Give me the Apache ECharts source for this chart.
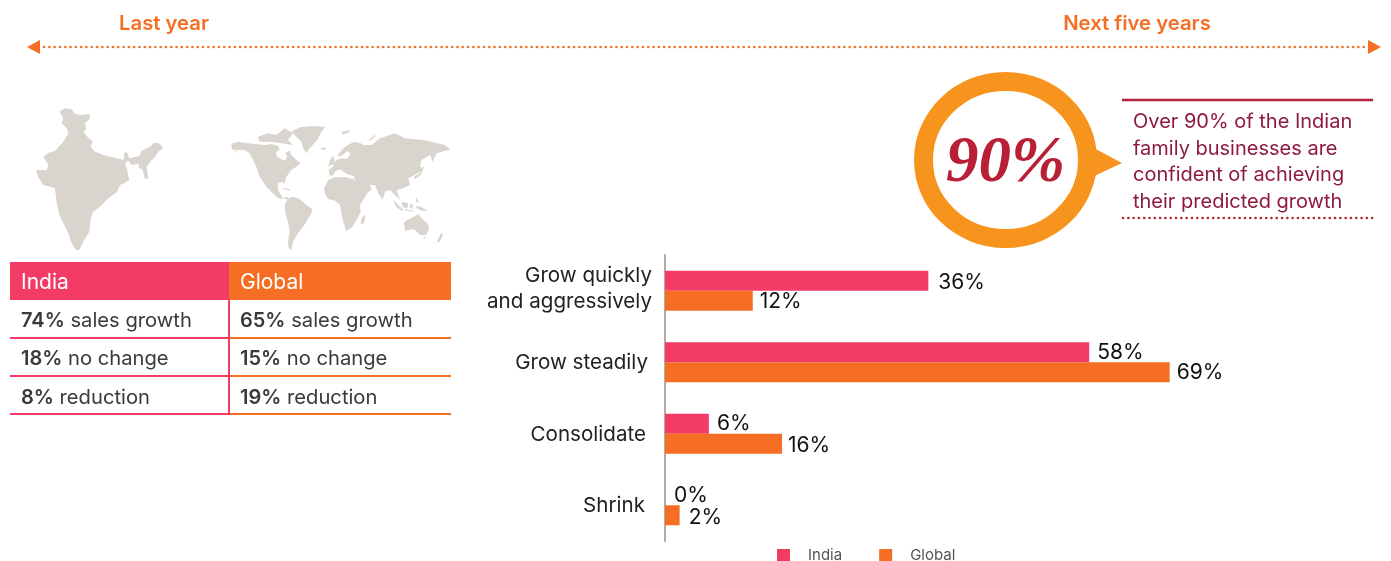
<!DOCTYPE html>
<html>
<head>
<meta charset="utf-8">
<title>Growth outlook</title>
<style>
  html, body { margin: 0; padding: 0; background: #fff; }
  #chart { width: 1391px; height: 561px; }
</style>
<script src="https://cdn.jsdelivr.net/npm/echarts@6/dist/echarts.min.js"></script>
</head>
<body>
<div id="chart"></div>
<script>
  // bar chart, next five years
  var categories = ['Grow quickly\nand aggressively', 'Grow steadily', 'Consolidate', 'Shrink']
  var indiaValues = [36, 58, 6, 0]
  var globalValues = [12, 69, 16, 2]

  // table, last year
  var outcomes = ['sales growth', 'no change', 'reduction']
  var indiaLastYear = [74, 18, 8]
  var globalLastYear = [65, 15, 19]

  var calloutLines = [
    'Over 90% of the Indian',
    'family businesses are',
    'confident of achieving',
    'their predicted growth'
  ]

  // map silhouettes at 3x
  var indiaShape = [[178,65],[195,55],[215,58],[225,72],[245,75],[268,72],[270,85],[255,100],[258,120],[250,125],[262,140],[278,155],[272,170],[285,185],[320,198],[360,207],[372,210],[372,190],[380,185],[388,205],[418,198],[425,182],[450,170],[462,158],[478,160],[490,175],[475,185],[465,200],[450,215],[440,230],[445,265],[435,268],[428,240],[415,232],[418,222],[395,225],[385,212],[375,220],[382,240],[388,270],[375,278],[360,285],[352,305],[325,325],[300,350],[280,365],[272,385],[268,425],[250,455],[238,480],[228,480],[215,460],[205,430],[190,400],[178,375],[170,340],[165,295],[150,290],[130,285],[115,262],[108,240],[140,240],[145,225],[130,200],[145,188],[165,183],[190,155],[205,130],[200,115],[185,100],[190,85]]
  var worldShapes = [
    // north america
    [[694,162],[714,155],[744,160],[769,162],[794,165],[814,162],[834,168],[839,178],[827,188],[834,202],[854,212],[862,200],[856,188],[869,182],[874,195],[889,210],[902,220],[889,230],[874,240],[859,260],[854,280],[844,275],[834,280],[834,300],[849,325],[864,320],[864,328],[834,325],[814,305],[799,290],[779,260],[769,230],[749,190],[734,180],[714,180],[699,190],[709,178],[696,180]],
    [[774,140],[804,130],[829,135],[854,115],[879,130],[864,150],[879,165],[844,160],[814,155],[779,155]],
    [[874,125],[899,112],[934,108],[976,110],[964,125],[952,150],[929,175],[919,190],[909,175],[904,155],[889,140]],
    [[962,175],[976,172],[979,178],[966,180]],
    [[849,293],[870,298],[868,302],[850,297]],
    // south america
    [[854,345],[864,325],[879,320],[899,327],[919,345],[937,357],[934,370],[919,395],[909,410],[894,430],[879,455],[874,480],[866,475],[864,455],[869,425],[864,395],[856,370]],
    // africa
    [[972,295],[985,270],[1005,262],[1040,262],[1062,268],[1075,295],[1085,312],[1105,305],[1095,320],[1080,345],[1082,365],[1070,390],[1055,413],[1038,423],[1030,395],[1025,375],[1020,345],[1005,332],[984,327],[974,310]],
    [[1090,377],[1096,375],[1092,400],[1082,403],[1084,387]],
    // eurasia
    [[985,240],[998,232],[1003,222],[1008,210],[1025,205],[1040,207],[1052,192],[1042,183],[1028,195],[1018,200],[1012,195],[1035,170],[1062,155],[1082,160],[1090,165],[1115,165],[1140,145],[1185,130],[1215,145],[1270,150],[1335,165],[1352,180],[1335,182],[1310,190],[1298,215],[1290,195],[1265,210],[1260,225],[1265,240],[1245,255],[1225,265],[1230,285],[1210,295],[1190,300],[1200,330],[1185,315],[1170,300],[1155,305],[1148,330],[1135,310],[1125,285],[1110,285],[1115,300],[1100,308],[1082,315],[1070,295],[1065,272],[1062,258],[1040,252],[1020,238],[1005,245],[1000,255],[990,258]],
    [[990,210],[1000,195],[1005,222],[985,228]],
    [[1025,125],[1050,120],[1045,128],[1028,133]],
    [[1105,150],[1125,135],[1128,138],[1110,152]],
    // islands of south east asia
    [[1180,330],[1195,345],[1210,360],[1205,363],[1188,350]],
    [[1205,335],[1225,340],[1222,355],[1208,352]],
    [[1215,357],[1240,362],[1240,365],[1215,361]],
    [[1230,342],[1240,345],[1235,358],[1230,352]],
    [[1248,347],[1265,352],[1283,362],[1265,362],[1250,355]],
    [[1248,320],[1258,340],[1248,335]],
    [[1265,232],[1272,232],[1262,255],[1245,268],[1242,262],[1258,250]],
    // australia and new zealand
    [[1212,397],[1235,383],[1255,373],[1265,385],[1282,400],[1288,415],[1278,435],[1260,435],[1242,417],[1215,423]],
    [[1270,440],[1276,440],[1274,447]],
    [[1330,435],[1323,430],[1310,457],[1317,457]]
  ]

  var PINK = '#F23C66'
  var ORANGE = '#F66E23'
  var FONT = 'Inter, "Liberation Sans", sans-serif'

  function txt (x, y, text, size, fill, align, extra) {
    var style = { x: x, y: y, text: text, fill: fill, align: align || 'left', verticalAlign: 'middle', font: size + 'px ' + FONT }
    if (extra) Object.assign(style, extra)
    return { type: 'text', silent: true, style: style }
  }

  function dotted (x1, x2, y, color) {
    return {
      type: 'line',
      silent: true,
      shape: { x1: x1, y1: y, x2: x2, y2: y },
      style: { stroke: color, lineWidth: 2.5, lineDash: [0.1, 5.2], lineCap: 'round' }
    }
  }

  function rule (x1, y1, x2, y2, color, width) {
    return {
      type: 'line',
      silent: true,
      shape: { x1: x1, y1: y1, x2: x2, y2: y2 },
      style: { stroke: color, lineWidth: width }
    }
  }

  function shape (points) {
    return {
      type: 'polygon',
      silent: true,
      x: 0,
      y: 90,
      scaleX: 1 / 3,
      scaleY: 1 / 3,
      shape: { points: points },
      style: { fill: '#DAD4CF' }
    }
  }

  var graphics = []

  // timeline arrow on top
  graphics.push(txt(164, 23.5, 'Last year', 20, ORANGE, 'center', { font: '600 20.3px ' + FONT }))
  graphics.push(txt(1137, 23.5, 'Next five years', 20, ORANGE, 'center', { font: '600 20.3px ' + FONT }))
  graphics.push(dotted(44, 1366, 47, ORANGE))
  graphics.push({ type: 'polygon', silent: true, shape: { points: [[27, 47], [40, 40], [40, 54]] }, style: { fill: ORANGE } })
  graphics.push({ type: 'polygon', silent: true, shape: { points: [[1381, 47], [1368, 40], [1368, 54]] }, style: { fill: ORANGE } })

  // maps
  graphics.push(shape(indiaShape))
  worldShapes.forEach(function (s) { graphics.push(shape(s)) })

  // table
  graphics.push({ type: 'rect', silent: true, shape: { x: 10, y: 262, width: 219, height: 38 }, style: { fill: PINK } })
  graphics.push({ type: 'rect', silent: true, shape: { x: 229, y: 262, width: 222, height: 38 }, style: { fill: ORANGE } })
  graphics.push(txt(21, 283, 'India', 21, '#fff'))
  graphics.push(txt(240, 283, 'Global', 21, '#fff'))
  var rowBottoms = [338, 376, 414]
  var rowMiddles = [321, 359, 398]
  var rich = { b: { font: '600 20px ' + FONT, fill: '#3a3a3a' } }
  outcomes.forEach(function (name, i) {
    graphics.push(rule(10, rowBottoms[i], 229, rowBottoms[i], PINK, 2))
    graphics.push(rule(230, rowBottoms[i], 451, rowBottoms[i], ORANGE, 2))
    graphics.push(txt(21, rowMiddles[i], '{b|' + indiaLastYear[i] + '%} ' + name, 20.2, '#3a3a3a', 'left', { rich: rich }))
    graphics.push(txt(240, rowMiddles[i], '{b|' + globalLastYear[i] + '%} ' + name, 20.2, '#3a3a3a', 'left', { rich: rich }))
  })
  graphics.push(rule(229, 300, 229, 415, PINK, 2))

  // 90% badge and callout
  graphics.push({ type: 'polygon', silent: true, shape: { points: [[1090, 146], [1122, 163], [1090, 178]] }, style: { fill: '#F7941E' } })
  graphics.push({
    type: 'ellipse',
    silent: true,
    shape: { cx: 1005.5, cy: 160, rx: 82, ry: 78.5 },
    style: { fill: '#fff', stroke: '#F7941E', lineWidth: 19 }
  })
  graphics.push(txt(1005.5, 164, '90%', 65, '#B91F36', 'center', { font: 'italic bold 65px "Liberation Serif", serif' }))
  graphics.push(rule(1122, 100, 1373, 100, '#B5223C', 2.5))
  calloutLines.forEach(function (line, i) {
    graphics.push(txt(1133, [122, 149, 175, 202][i], line, 20, '#8E1B3C'))
  })
  graphics.push(dotted(1123, 1373, 218, '#B5223C'))

  // small per-label shifts, the source labels were placed by hand
  var indiaNudge = [[3, 2], [1, 0], [1, 0], [2, 0]]
  var globalNudge = [[0, 1], [0, 0], [-1, 2], [2, 2]]

  function barData (values, nudge) {
    return values.map(function (v, i) {
      return { value: v, label: { offset: nudge[i] } }
    })
  }

  var barLabel = {
    show: true,
    position: 'right',
    distance: 7,
    color: '#111',
    fontFamily: FONT,
    fontSize: 21,
    formatter: '{c}%'
  }

  // right edges of the axis labels are not aligned in the source
  var labelRich = {
    r0: { fontSize: 20.6, fontFamily: FONT, color: '#222', lineHeight: 26, padding: [0, 0, 4, 0] },
    r1: { fontSize: 20.6, fontFamily: FONT, color: '#222', lineHeight: 26, padding: [1, 4, 0, 0] },
    r2: { fontSize: 20.6, fontFamily: FONT, color: '#222', lineHeight: 26, padding: [2, 6, 0, 0] },
    r3: { fontSize: 20.6, fontFamily: FONT, color: '#222', lineHeight: 26, padding: [2, 7, 0, 0] }
  }

  var option = {
    animation: false,
    textStyle: { fontFamily: FONT },
    graphic: { elements: graphics },
    legend: {
      left: 777,
      top: 548,
      itemWidth: 13,
      itemHeight: 13,
      itemGap: 37,
      icon: 'rect',
      padding: 0,
      selectedMode: false,
      data: ['India', 'Global'],
      textStyle: { color: '#555', fontSize: 15, fontFamily: FONT, padding: [0, 0, 0, 13] }
    },
    grid: { left: 665, top: 255, width: 512, height: 286 },
    xAxis: { type: 'value', min: 0, max: 70, show: false },
    yAxis: {
      type: 'category',
      inverse: true,
      offset: 1.5,
      data: categories,
      axisTick: { show: false },
      axisLine: { lineStyle: { color: '#B5ABA3', width: 2 } },
      axisLabel: {
        margin: 11.5,
        rich: labelRich,
        formatter: function (value, index) {
          return value.split('\n').map(function (line) {
            return '{r' + index + '|' + line + '}'
          }).join('\n')
        }
      }
    },
    series: [
      { name: 'India', type: 'bar', data: barData(indiaValues, indiaNudge), barWidth: 20, barGap: '0%', itemStyle: { color: PINK }, label: barLabel },
      { name: 'Global', type: 'bar', data: barData(globalValues, globalNudge), barWidth: 20, barGap: '0%', itemStyle: { color: ORANGE }, label: barLabel }
    ]
  }

  var myEcharts = echarts.init(document.getElementById('chart'))
  myEcharts.setOption(option)
</script>
</body>
</html>
